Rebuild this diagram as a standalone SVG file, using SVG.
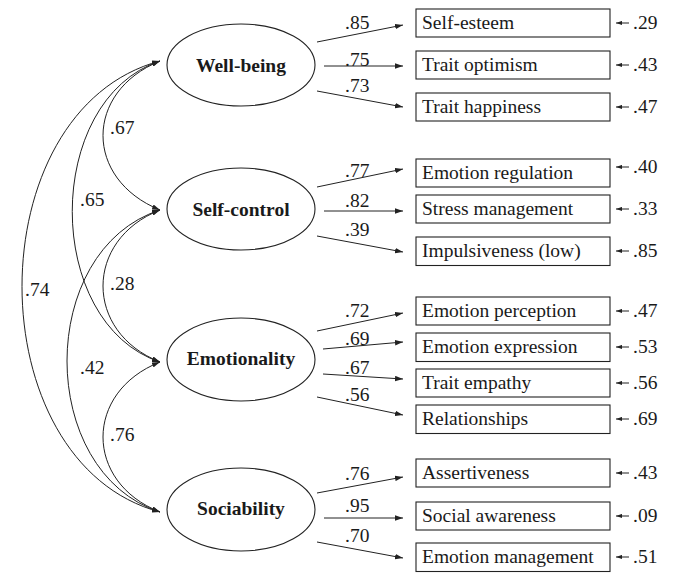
<svg xmlns="http://www.w3.org/2000/svg" width="678" height="573" viewBox="0 0 678 573">
<defs>
<marker id="ah" markerUnits="userSpaceOnUse" markerWidth="9" markerHeight="6" refX="8" refY="3" orient="auto-start-reverse">
<path d="M0,0.3 L8,3 L0,5.7 z" fill="#222"/>
</marker>
<marker id="ahs" markerUnits="userSpaceOnUse" markerWidth="7" markerHeight="5" refX="6" refY="2.5" orient="auto-start-reverse">
<path d="M0,0.4 L6,2.5 L0,4.6 z" fill="#222"/>
</marker>
<style>
text{font-family:"Liberation Serif","Times New Roman",serif;font-size:19.5px;fill:#1a1a1a}
.lat{font-weight:bold;text-anchor:middle}
ellipse,rect{fill:#fff;stroke:#222;stroke-width:1.1}
.ld{stroke:#222;stroke-width:1;fill:none;marker-end:url(#ah)}
.cv{stroke:#222;stroke-width:1;fill:none;marker-start:url(#ah);marker-end:url(#ah)}
.er{stroke:#222;stroke-width:1;fill:none;marker-end:url(#ahs)}
</style>
</defs>
<g id="connectors">
<path class="cv" d="M160,61 C84,92 84,179 160,210"/>
<path class="cv" d="M160,61 C43,100 43,323 160,362"/>
<path class="cv" d="M160,61 C-24,110 -24,463 160,512"/>
<path class="cv" d="M160,210 C84,240 84,332 160,362"/>
<path class="cv" d="M160,210 C36,250 36,472 160,512"/>
<path class="cv" d="M160,362 C84,392 84,482 160,512"/>
<line class="ld" x1="317" y1="42" x2="403" y2="25"/>
<line class="ld" x1="324" y1="66" x2="403" y2="66"/>
<line class="ld" x1="317" y1="91" x2="403" y2="107"/>
<line class="ld" x1="317" y1="187" x2="403" y2="169"/>
<line class="ld" x1="324" y1="211" x2="403" y2="211"/>
<line class="ld" x1="317" y1="236" x2="403" y2="252"/>
<line class="ld" x1="317" y1="331" x2="403" y2="313"/>
<line class="ld" x1="323" y1="349" x2="403" y2="342"/>
<line class="ld" x1="323" y1="374" x2="403" y2="379"/>
<line class="ld" x1="317" y1="397" x2="403" y2="415"/>
<line class="ld" x1="317" y1="493" x2="403" y2="477"/>
<line class="ld" x1="324" y1="518" x2="403" y2="518"/>
<line class="ld" x1="317" y1="542" x2="403" y2="558"/>
<line class="er" x1="629" y1="23" x2="616" y2="23"/>
<line class="er" x1="629" y1="65" x2="616" y2="65"/>
<line class="er" x1="629" y1="107" x2="616" y2="107"/>
<line class="er" x1="629" y1="167" x2="616" y2="167"/>
<line class="er" x1="629" y1="209" x2="616" y2="209"/>
<line class="er" x1="629" y1="251" x2="616" y2="251"/>
<line class="er" x1="629" y1="311" x2="616" y2="311"/>
<line class="er" x1="629" y1="347" x2="616" y2="347"/>
<line class="er" x1="629" y1="383" x2="616" y2="383"/>
<line class="er" x1="629" y1="419" x2="616" y2="419"/>
<line class="er" x1="629" y1="473" x2="616" y2="473"/>
<line class="er" x1="629" y1="516" x2="616" y2="516"/>
<line class="er" x1="629" y1="557" x2="616" y2="557"/>
<text x="110" y="134">.67</text>
<text x="80" y="206">.65</text>
<text x="25" y="296">.74</text>
<text x="110" y="290">.28</text>
<text x="80" y="374">.42</text>
<text x="110" y="441">.76</text>
<text x="345" y="29">.85</text>
<text x="345" y="66">.75</text>
<text x="345" y="92">.73</text>
<text x="345" y="177">.77</text>
<text x="345" y="207">.82</text>
<text x="345" y="236">.39</text>
<text x="345" y="317">.72</text>
<text x="345" y="345">.69</text>
<text x="345" y="374">.67</text>
<text x="345" y="401">.56</text>
<text x="345" y="480">.76</text>
<text x="345" y="512">.95</text>
<text x="345" y="542">.70</text>
<text x="633" y="29">.29</text>
<text x="633" y="71">.43</text>
<text x="633" y="113">.47</text>
<text x="633" y="173">.40</text>
<text x="633" y="215">.33</text>
<text x="633" y="257">.85</text>
<text x="633" y="317">.47</text>
<text x="633" y="353">.53</text>
<text x="633" y="389">.56</text>
<text x="633" y="425">.69</text>
<text x="633" y="479">.43</text>
<text x="633" y="522">.09</text>
<text x="633" y="563">.51</text>
</g>
<g id="well-being"><ellipse cx="241" cy="65" rx="74" ry="41"/><text class="lat" x="241" y="72">Well-being</text></g>
<g id="self-control"><ellipse cx="241" cy="209" rx="74" ry="41"/><text class="lat" x="241" y="216">Self-control</text></g>
<g id="emotionality"><ellipse cx="241" cy="359.5" rx="74" ry="41.5"/><text class="lat" x="241" y="365">Emotionality</text></g>
<g id="sociability"><ellipse cx="241" cy="509.5" rx="74" ry="41.5"/><text class="lat" x="241" y="515">Sociability</text></g>
<g id="self-esteem"><rect x="416" y="9" width="194" height="28"/><text x="422" y="29">Self-esteem</text></g>
<g id="trait-optimism"><rect x="416" y="51" width="194" height="28"/><text x="422" y="71">Trait optimism</text></g>
<g id="trait-happiness"><rect x="416" y="93" width="194" height="28"/><text x="422" y="113">Trait happiness</text></g>
<g id="emotion-regulation"><rect x="416" y="159" width="194" height="28"/><text x="422" y="179">Emotion regulation</text></g>
<g id="stress-management"><rect x="416" y="195" width="194" height="28"/><text x="422" y="215">Stress management</text></g>
<g id="impulsiveness"><rect x="416" y="237" width="194" height="28.5"/><text x="422" y="257">Impulsiveness (low)</text></g>
<g id="emotion-perception"><rect x="416" y="297" width="194" height="28"/><text x="422" y="317">Emotion perception</text></g>
<g id="emotion-expression"><rect x="416" y="333" width="194" height="28.5"/><text x="422" y="353">Emotion expression</text></g>
<g id="trait-empathy"><rect x="416" y="369" width="194" height="28"/><text x="422" y="389">Trait empathy</text></g>
<g id="relationships"><rect x="416" y="405" width="194" height="28.5"/><text x="422" y="425">Relationships</text></g>
<g id="assertiveness"><rect x="416" y="459" width="194" height="28"/><text x="422" y="479">Assertiveness</text></g>
<g id="social-awareness"><rect x="416" y="502" width="194" height="28"/><text x="422" y="522">Social awareness</text></g>
<g id="emotion-management"><rect x="416" y="543" width="194" height="28.5"/><text x="422" y="563">Emotion management</text></g>
</svg>
